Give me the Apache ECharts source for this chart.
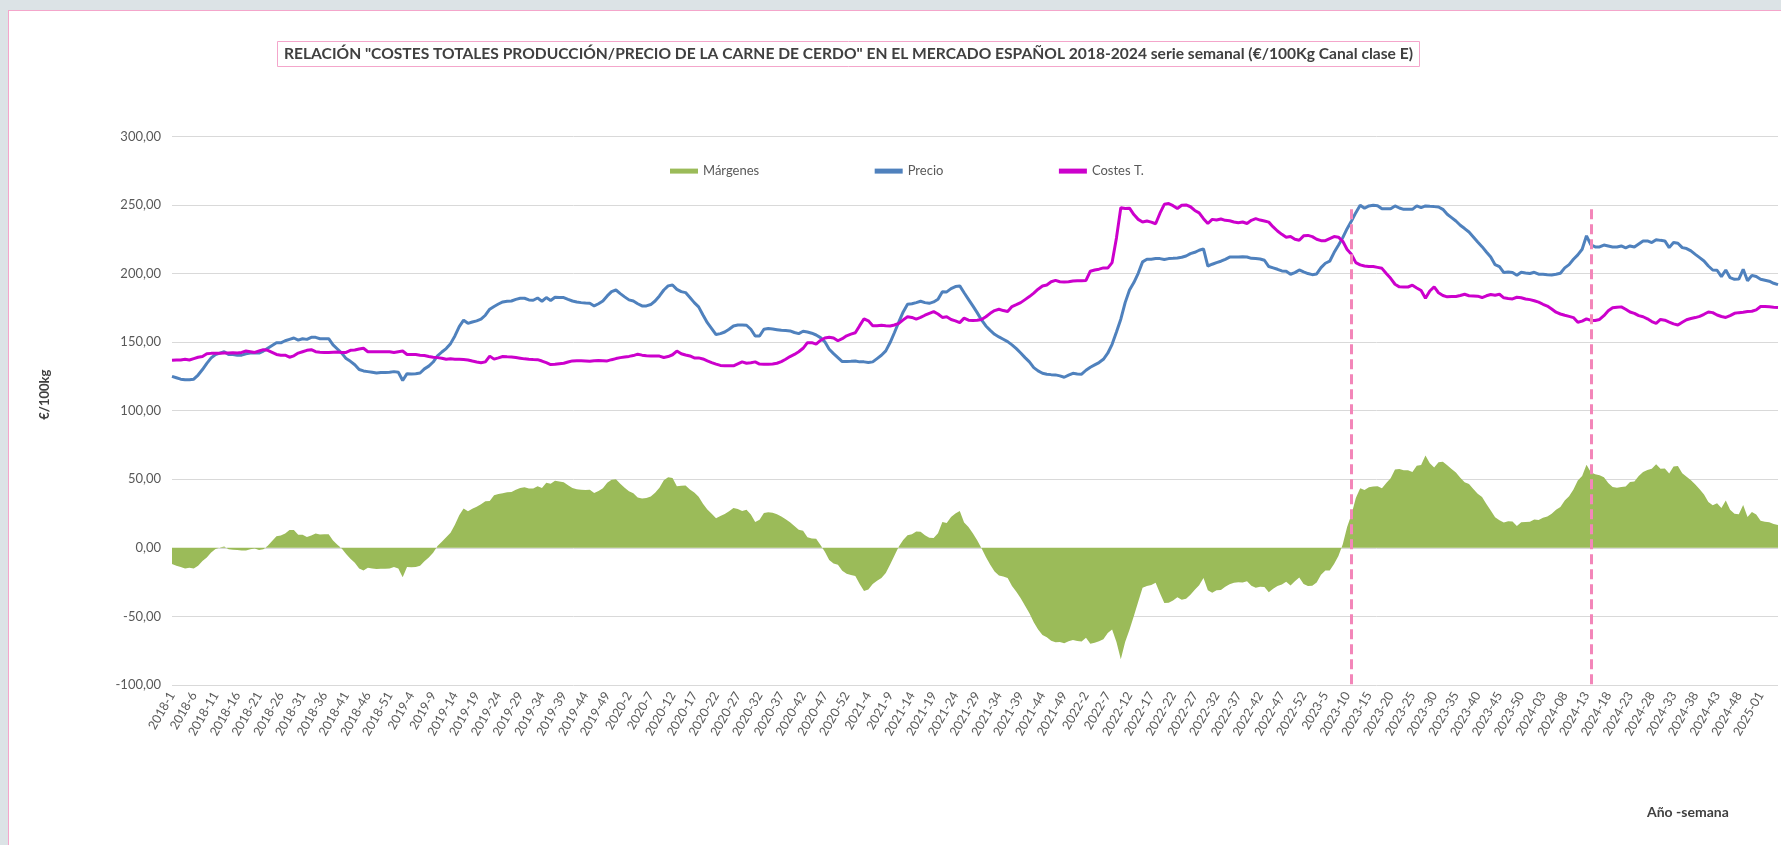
<!DOCTYPE html>
<html>
<head>
<meta charset="utf-8">
<script src="https://cdn.jsdelivr.net/npm/echarts@6/dist/echarts.min.js"></script>
<style>
  html, body { margin:0; padding:0; overflow:hidden; background:#DCE3E6; }
  #panel { position:absolute; left:8px; top:10px; width:1800px; height:900px; background:#fff;
           border-left:1px solid #F4A6CB; border-top:1px solid #F4A6CB; }
  #chart { position:absolute; left:0; top:0; width:1781px; height:845px; }
</style>
</head>
<body>
<div id="panel"></div>
<div id="chart"></div>
<script>
// ---- categories (Año-semana) ----
const years = [2018, 2019, 2020, 2021, 2022, 2023, 2024, 2025];
const weeksPerYear = [52, 52, 53, 52, 52, 52, 52, 5];
const padFromYear = 2024;

// ---- series values (€/100kg) ----
const precio = [
125,124,123,122.5,122.5,123,126,130,134.5,138.5,
141,142,143,141,141,140.5,140.5,141.5,142,142,
142,143.5,145.5,147.5,149.5,149.5,151,152,153,151.5,
152.5,152,153.5,153.5,152.5,152.5,152.5,148,145,142,
138,136,133.5,130,129,128.5,128,127.5,127.8,127.8,
128,128.5,128,122,127,126.8,127,127.5,130.5,132.5,
135.5,140,142.8,145.3,148.9,154.5,161.3,166,163.7,164.7,
165.5,166.7,169.6,174,176,177.8,179.3,179.8,180,181.2,
182,182,180.8,180.5,182.2,179.8,182.5,180.3,182.7,182.5,
182.5,181.2,180,179.3,178.8,178.5,178.3,176.4,178,180,
183.7,186.8,188,185.4,183,180.8,180,178,176.4,176.4,
177.4,180,183.7,188,191,191.7,188.5,186.8,186.1,182.5,
178.8,175.7,169.8,164.2,159.9,155.5,156.2,157.4,159.4,161.8,
162.5,162.5,162.3,159.4,154.5,154.5,159.4,159.9,159.6,159.1,
158.6,158.4,158.2,157,156.2,157.9,157.4,156.5,155.2,153.3,
150.2,144.8,141.6,138.7,135.8,135.8,136,136.3,135.6,135.6,
135.1,135.6,138,140.4,143.6,149.7,157,164.7,172,177.6,
178,178.8,179.8,178.8,178.3,179.3,181.2,186.8,186.6,189,
190.5,191,186,181.2,176.4,171.5,166.2,161.8,158.6,155.7,
153.8,152.1,150.4,148,145.3,142.1,138.7,135.6,131.4,129,
127.3,126.6,126.3,126.1,125.4,124.4,125.9,127.3,126.8,126.6,
129.5,131.7,133.4,135.1,137.5,141.9,148.4,157.4,166.7,178.8,
188,193.4,200.2,208.5,210.4,210.4,210.9,210.9,210.2,210.9,
211.1,211.4,211.9,212.8,214.5,215.5,217,218,205.5,206.8,
208,209,210.4,212,212.1,212.1,212.3,212.1,211.1,210.9,
210.6,209.7,205.1,204.1,203.1,201.9,201.7,199.5,200.7,202.6,
201.2,200,199.2,199.7,204.3,207.5,209,215.3,220.6,226.2,
232.7,238.3,244.4,249.8,247.6,249.3,249.8,249.5,247.3,247.3,
247.3,249.3,247.8,246.8,246.8,246.8,249.3,248,249.3,249,
248.8,248.5,246.8,243.2,240.8,238.3,235.2,232.8,230.3,226.7,
223,219.6,215.7,212,206.5,205,200.7,201.2,200.7,198.7,
200.9,200.4,200,200.9,199.5,199.5,199.2,199,199.5,200.2,
204.1,206.5,210.4,213.6,217.7,227.5,221,219.4,219.4,220.8,
220.1,219.4,219.4,220.1,218.7,220.1,219.4,221.6,223.8,223.8,
222.6,224.7,224.2,223.8,218.9,222.6,222.1,218.9,218.2,216.5,
214,211.6,209.2,205.5,202.6,202.4,197.8,202.6,197,195.8,
196,203.1,194.8,198.7,197.8,195.8,195.1,194.4,192.9,191.9
];

const costes = [
136.8,137,137,137.5,137,138,139,139.5,141.5,141.8,
141.8,141.8,142,142,142.3,142,142.5,143.5,143,142.5,
143.5,144.5,144,142.5,141,140.5,140.5,139,140,142,
143,144,144.5,143,142.7,142.5,142.5,142.7,142.8,142.5,
142.5,144,144.3,145,145.5,143,143,143,143,143,
143,142.5,143,143.5,141,141,141,140.5,140.2,139.5,
139,138.7,138.3,137.5,137.8,137.6,137.5,137.3,137,136.2,
135.5,135,135.6,139.8,137.6,138.5,139.5,139.3,139.2,138.8,
138.3,137.8,137.5,137.3,137.2,136.2,135,133.6,133.8,134.2,
134.6,135.5,136.3,136.5,136.5,136.3,136,136.4,136.6,136.5,
136.3,137.2,138,138.7,139.2,139.6,140.2,141.2,140.5,140,
139.9,139.9,139.8,138.8,139.5,140.8,143.5,141.5,140.6,139.9,
138.5,138.5,137.7,136.3,135.1,134,133,132.7,132.7,132.7,
134.2,135.6,134.6,135,135.6,134,133.9,133.9,134,134.6,
135.8,137.5,139.5,141,143,145.5,149.6,149.6,148.5,151.2,
153,153.6,153,151,152.5,154.6,155.8,156.8,162,167,
165.5,162,162,162.3,162,161.8,162.5,163.7,166.2,168.5,
168,166.8,168,169.6,171,172.2,170.5,168,168.5,166.5,
165.5,164.2,167.5,166,165.8,166,166.5,168.5,171,173,
174,173,172.3,175.9,177.3,178.8,181,183.2,185.7,188.6,
190.9,191.7,194,195,194,193.9,194,194.5,194.8,194.8,
195,201.7,202.6,203.2,204.1,204,208,226,248,247.5,
247.7,243,239.5,237.6,238.3,237.5,236.3,244,250.5,251,
249.5,247.4,249.8,250,248.7,246,244.2,240,236.5,239.5,
239,239.8,238.8,238.5,237.6,237.1,237.6,236.5,238.8,240,
239,238.3,237.5,234,231,228.6,226.5,227,225,224.3,
227.5,227.8,226.9,225,224,224,225.5,227,226.5,223.5,
217.5,214,208,206.3,205.5,205.1,205.1,204.5,203.8,200,
196.5,192.2,190.3,190.2,190.2,191.5,189.5,187.6,182,187.3,
190.3,186,184,183,183.3,183.3,184,184.9,183.8,183.7,
183.5,182.5,183.8,184.7,184.2,184.9,182.3,181.8,181.5,182.7,
182.3,181.5,181,180.2,179.2,177.6,176.3,174.2,171.8,170.5,
169.6,168.8,167.9,164.5,165.3,167,165.8,165.8,166.5,169.3,
172.8,175,175.5,175.7,174,172,171,169.3,168.5,167,
165,163.7,166.5,166,164.6,163.3,162.5,164.5,166.3,167.2,
167.9,168.8,170.3,172,171.5,169.8,168.7,168,169.3,171,
171.5,171.8,172.3,172.5,173.5,176,176,175.8,175.5,175.3
];

const margenes = [
-11.8,-13,-14,-15,-14.5,-15,-13,-9.5,-7,-3.3,
-0.8,0.2,1,-1,-1.3,-1.5,-2,-2,-1,-0.5,
-1.5,-1,1.5,5,8.5,9,10.5,13,13,9.5,
9.5,8,9,10.5,9.8,10,10,5.3,2.2,-0.5,
-4.5,-8,-10.8,-15,-16.5,-14.5,-15,-15.5,-15.2,-15.2,
-15,-14,-15,-21.5,-14,-14.2,-14,-13,-9.7,-7,
-3.5,1.3,4.5,7.8,11.1,16.9,23.8,28.7,26.7,28.5,
30,31.7,34,34.2,38.4,39.3,39.8,40.5,40.8,42.4,
43.7,44.2,43.3,43.2,45,43.6,47.5,46.7,48.9,48.3,
47.9,45.7,43.7,42.8,42.3,42.2,42.3,40,41.4,43.5,
47.4,49.6,50,46.7,43.8,41.2,39.8,36.8,35.9,36.4,
37.5,40.1,43.9,49.2,51.5,50.9,45,45.3,45.5,42.6,
40.3,37.2,32.1,27.9,24.8,21.5,23.2,24.7,26.7,29.1,
28.3,26.9,27.7,24.4,18.9,20.5,25.5,26,25.6,24.5,
22.8,20.9,18.7,16,13.2,12.4,7.8,6.9,6.7,2.1,
-2.8,-8.8,-11.4,-12.3,-16.7,-18.8,-19.8,-20.5,-26.4,-31.4,
-30.4,-26.4,-24,-21.9,-18.4,-12.1,-5.5,1,5.8,9.1,
10,12,11.8,9.2,7.3,7.1,10.7,18.8,18.1,22.5,
25,26.8,18.5,15.2,10.6,5.5,-0.3,-6.7,-12.4,-17.3,
-20.2,-20.9,-21.9,-27.9,-32,-36.7,-42.3,-47.6,-54.3,-59.6,
-63.6,-65.1,-67.7,-68.9,-68.6,-69.5,-68.1,-67.2,-68,-68.2,
-65.5,-70,-69.2,-68.1,-66.6,-62.1,-59.6,-68.6,-81.3,-68.7,
-59.7,-49.6,-39.3,-29.1,-27.9,-27.1,-25.4,-33.1,-40.3,-40.1,
-38.4,-36,-37.9,-37.2,-34.2,-30.5,-27.2,-22,-31,-32.7,
-31,-30.8,-28.4,-26.5,-25.5,-25,-25.3,-24.4,-27.7,-29.1,
-28.4,-28.6,-32.4,-29.9,-27.9,-26.7,-24.8,-27.5,-24.3,-21.7,
-26.3,-27.8,-27.7,-25.3,-19.7,-16.5,-16.5,-11.7,-5.9,2.7,
15.2,24.3,36.4,43.5,42.1,44.2,44.7,45,43.5,47.3,
50.8,57.1,57.5,56.6,56.6,55.3,59.8,60.4,67.3,61.7,
58.5,62.5,62.8,60.2,57.5,55,51.2,47.9,46.5,43,
39.5,37.1,31.9,27.3,22.3,20.1,18.4,19.4,19.2,16,
18.6,18.9,19,20.7,20.3,21.9,22.9,24.8,27.7,29.7,
34.5,37.7,42.5,49.1,52.4,60.5,55.2,53.6,52.9,51.5,
47.3,44.4,43.9,44.4,44.7,48.1,48.4,52.3,55.3,56.8,
57.6,61,57.7,57.8,54.3,59.3,59.6,54.4,51.9,49.3,
46.1,42.8,38.9,33.5,31.1,32.6,29.1,34.6,27.7,24.8,
24.5,31.3,22.5,26.2,24.3,19.8,19.1,18.6,17.4,16.6
];

// marked weeks (dashed vertical lines) and their top value
const markedWeeks = ['2023-11', '2024-14'];
const markTop = 246.8;

// ---- y-axis ticks ----
const yMin = -100, yMax = 300, yStep = 50;

// build category labels
const categories = [];
years.forEach((y, k) => {
  for (let w = 1; w <= weeksPerYear[k]; w++) {
    const ws = (y >= padFromYear && w < 10) ? '0' + w : String(w);
    categories.push(y + '-' + ws);
  }
});

const FONT = 'Lato, "Open Sans", sans-serif';
const chart = echarts.init(document.getElementById('chart'), null, { renderer: 'canvas' });
chart.setOption({
  animation: false,
  textStyle: { fontFamily: FONT },
  title: [
    {
      text: 'RELACIÓN "COSTES TOTALES PRODUCCIÓN/PRECIO DE LA CARNE DE CERDO" EN EL MERCADO ESPAÑOL 2018-2024 serie semanal (€/100Kg Canal clase E)',
      left: 277, top: 41,
      padding: [5, 7, 5, 7],
      borderColor: '#F4A6CB', borderWidth: 1,
      textStyle: { fontFamily: FONT, fontWeight: 'bold', fontSize: 15.6, color: '#404040' }
    },
    {
      text: 'Año -semana',
      left: 1647, top: 805,
      padding: 0,
      textStyle: { fontFamily: FONT, fontWeight: 'bold', fontSize: 14, color: '#404040' }
    }
  ],
  legend: {
    data: ['Márgenes', 'Precio', 'Costes T.'],
    left: 665, top: 159.6,
    itemGap: 115.5,
    itemWidth: 28, itemHeight: 5,
    icon: 'rect',
    textStyle: { fontFamily: FONT, fontSize: 13, color: '#595959' }
  },
  grid: { left: 172, right: 3, top: 136.4, bottom: 160, containLabel: false },
  xAxis: {
    type: 'category',
    data: categories,
    boundaryGap: false,
    axisLine: { show: false, onZero: false },
    axisTick: { show: false },
    splitLine: { show: false },
    axisLabel: {
      interval: 4, rotate: 60, margin: 8,
      color: '#595959', fontSize: 12.5, fontFamily: FONT
    }
  },
  yAxis: {
    type: 'value',
    min: yMin, max: yMax, interval: yStep,
    axisLine: { show: false },
    axisTick: { show: false },
    splitLine: { lineStyle: { color: '#D9D9D9', width: 1 } },
    axisLabel: {
      color: '#595959', fontSize: 13, fontFamily: FONT, margin: 11,
      formatter: v => v.toFixed(2).replace('.', ',')
    },
    name: '€/100kg',
    nameLocation: 'middle',
    nameRotate: 90,
    nameGap: 121,
    nameTextStyle: { fontFamily: FONT, fontWeight: 'bold', fontSize: 13, color: '#404040', padding: [0, 0, 0, 32] }
  },
  series: [
    {
      name: 'Márgenes', type: 'line', data: margenes,
      symbol: 'none', silent: true,
      itemStyle: { color: '#9BBB59' },
      lineStyle: { width: 0 },
      areaStyle: { color: '#9BBB59', opacity: 1, origin: 'auto' },
      z: 1
    },
    {
      name: 'Precio', type: 'line', data: precio,
      symbol: 'none', silent: true,
      itemStyle: { color: '#4F81BD' },
      lineStyle: { color: '#4F81BD', width: 3 },
      z: 3
    },
    {
      name: 'Costes T.', type: 'line', data: costes,
      symbol: 'none', silent: true,
      itemStyle: { color: '#CC00CC' },
      lineStyle: { color: '#CC00CC', width: 3 },
      z: 4,
      markLine: {
        silent: true,
        symbol: ['none', 'none'],
        label: { show: false },
        lineStyle: { color: '#F386B9', width: 3, type: [10, 5] },
        data: markedWeeks.map(w => [{ coord: [w, markTop] }, { coord: [w, yMin] }])
      }
    }
  ]
});
</script>
</body>
</html>
